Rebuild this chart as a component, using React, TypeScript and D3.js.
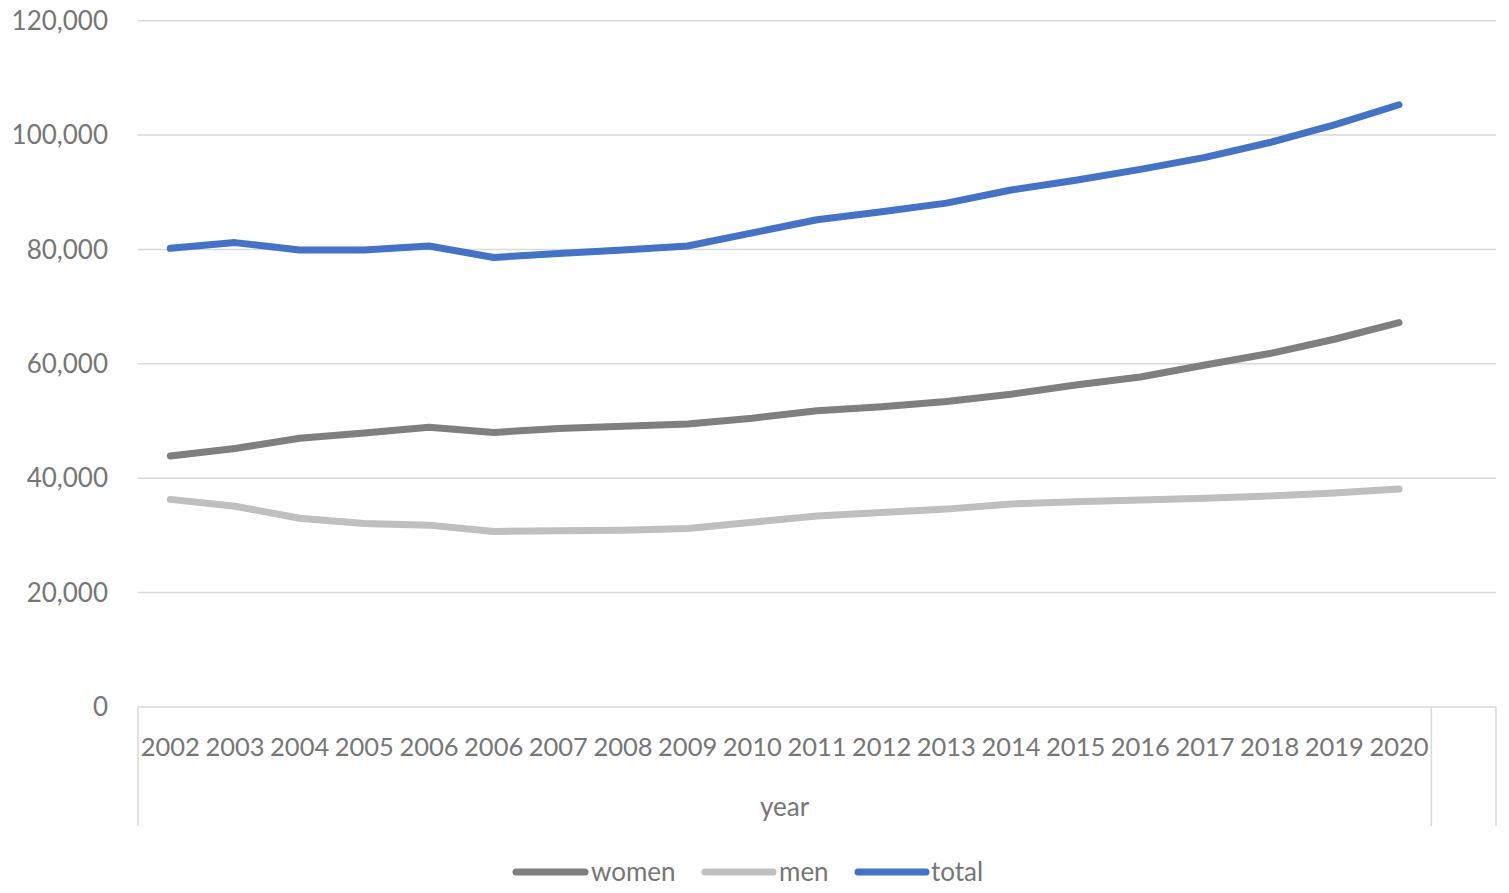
import { useMemo } from "react";
import * as d3 from "d3";

const years = [
    "2002", "2003", "2004", "2005", "2006", "2006", "2007", "2008", "2009", "2010",
    "2011", "2012", "2013", "2014", "2015", "2016", "2017", "2018", "2019", "2020"
];
const women = [
    43900, 45200, 47000, 47900, 48900, 48000, 48700, 49100, 49500, 50500,
    51800, 52500, 53400, 54700, 56300, 57700, 59800, 61800, 64300, 67200
];
const men = [
    36300, 35100, 33000, 32100, 31800, 30700, 30800, 30900, 31200, 32300,
    33400, 34000, 34600, 35500, 35900, 36200, 36500, 36900, 37400, 38100
];
const total = [
    80200, 81200, 79900, 79900, 80600, 78600, 79300, 79900, 80600, 82900,
    85200, 86600, 88100, 90400, 92100, 94000, 96100, 98700, 101800, 105300
];
const yTicks = [0, 20000, 40000, 60000, 80000, 100000, 120000];
const groupLabel = "year";

const series = [
    { name: "women", values: women, color: "#7F7F7F" },
    { name: "men", values: men, color: "#BFBFBF" },
    { name: "total", values: total, color: "#4472C4" }
];

const WIDTH = 1509;
const HEIGHT = 893;
const LEFT = 138;
const RIGHT = 1496;
const TOP = 20.7;
const BOTTOM = 707;
const FONT = "Lato, 'Open Sans', sans-serif";
const TEXT = "#767676";
const GRID = "#D9D9D9";

export default function App() {
    // 20 years plus one empty slot at the end, like the source
    const slots = useMemo(() => [...years.map((_, i) => `y${i}`), "blank"], []);

    const x = useMemo(
        () => d3.scaleBand<string>().domain(slots).range([LEFT, RIGHT]),
        [slots]
    );
    const y = useMemo(
        () => d3.scaleLinear().domain([0, 120000]).range([BOTTOM, TOP]),
        []
    );
    const cx = (i: number) => (x(`y${i}`) ?? 0) + x.bandwidth() / 2;

    const line = d3
        .line<number>()
        .x((_, i) => cx(i))
        .y(d => y(d));

    const fmt = d3.format(",");
    const groupEnd = x("blank") ?? RIGHT;

    const legend = [
        { x0: 516, x1: 585, tx: 591 },
        { x0: 705, x1: 773, tx: 779 },
        { x0: 858, x1: 926, tx: 931 }
    ];

    return (
        <svg
            width={WIDTH}
            height={HEIGHT}
            style={{ position: "absolute", left: 0, top: 0, background: "#fff" }}
        >
            {yTicks.map(t => (
                <g key={t}>
                    <line x1={LEFT} x2={RIGHT} y1={y(t)} y2={y(t)} stroke={GRID} strokeWidth={1.5} />
                    <text
                        x={108}
                        y={y(t)}
                        dy="0.35em"
                        textAnchor="end"
                        fontFamily={FONT}
                        fontSize={26}
                        fill={TEXT}
                    >
                        {fmt(t)}
                    </text>
                </g>
            ))}

            {[LEFT, groupEnd, RIGHT].map((vx, i) => (
                <line key={i} x1={vx} x2={vx} y1={BOTTOM} y2={826} stroke={GRID} strokeWidth={1.5} />
            ))}

            {years.map((yr, i) => (
                <text
                    key={i}
                    x={cx(i)}
                    y={756}
                    textAnchor="middle"
                    fontFamily={FONT}
                    fontSize={25.5}
                    fill={TEXT}
                >
                    {yr}
                </text>
            ))}
            <text
                x={(LEFT + groupEnd) / 2}
                y={816}
                textAnchor="middle"
                fontFamily={FONT}
                fontSize={26}
                fill={TEXT}
            >
                {groupLabel}
            </text>

            {series.map(s => (
                <path
                    key={s.name}
                    d={line(s.values) ?? ""}
                    fill="none"
                    stroke={s.color}
                    strokeWidth={7}
                    strokeLinecap="round"
                    strokeLinejoin="round"
                />
            ))}

            {series.map((s, i) => (
                <g key={s.name}>
                    <line
                        x1={legend[i].x0}
                        x2={legend[i].x1}
                        y1={872}
                        y2={872}
                        stroke={s.color}
                        strokeWidth={7}
                        strokeLinecap="round"
                    />
                    <text
                        x={legend[i].tx}
                        y={881}
                        fontFamily={FONT}
                        fontSize={26}
                        fill={TEXT}
                    >
                        {s.name}
                    </text>
                </g>
            ))}
        </svg>
    );
}
